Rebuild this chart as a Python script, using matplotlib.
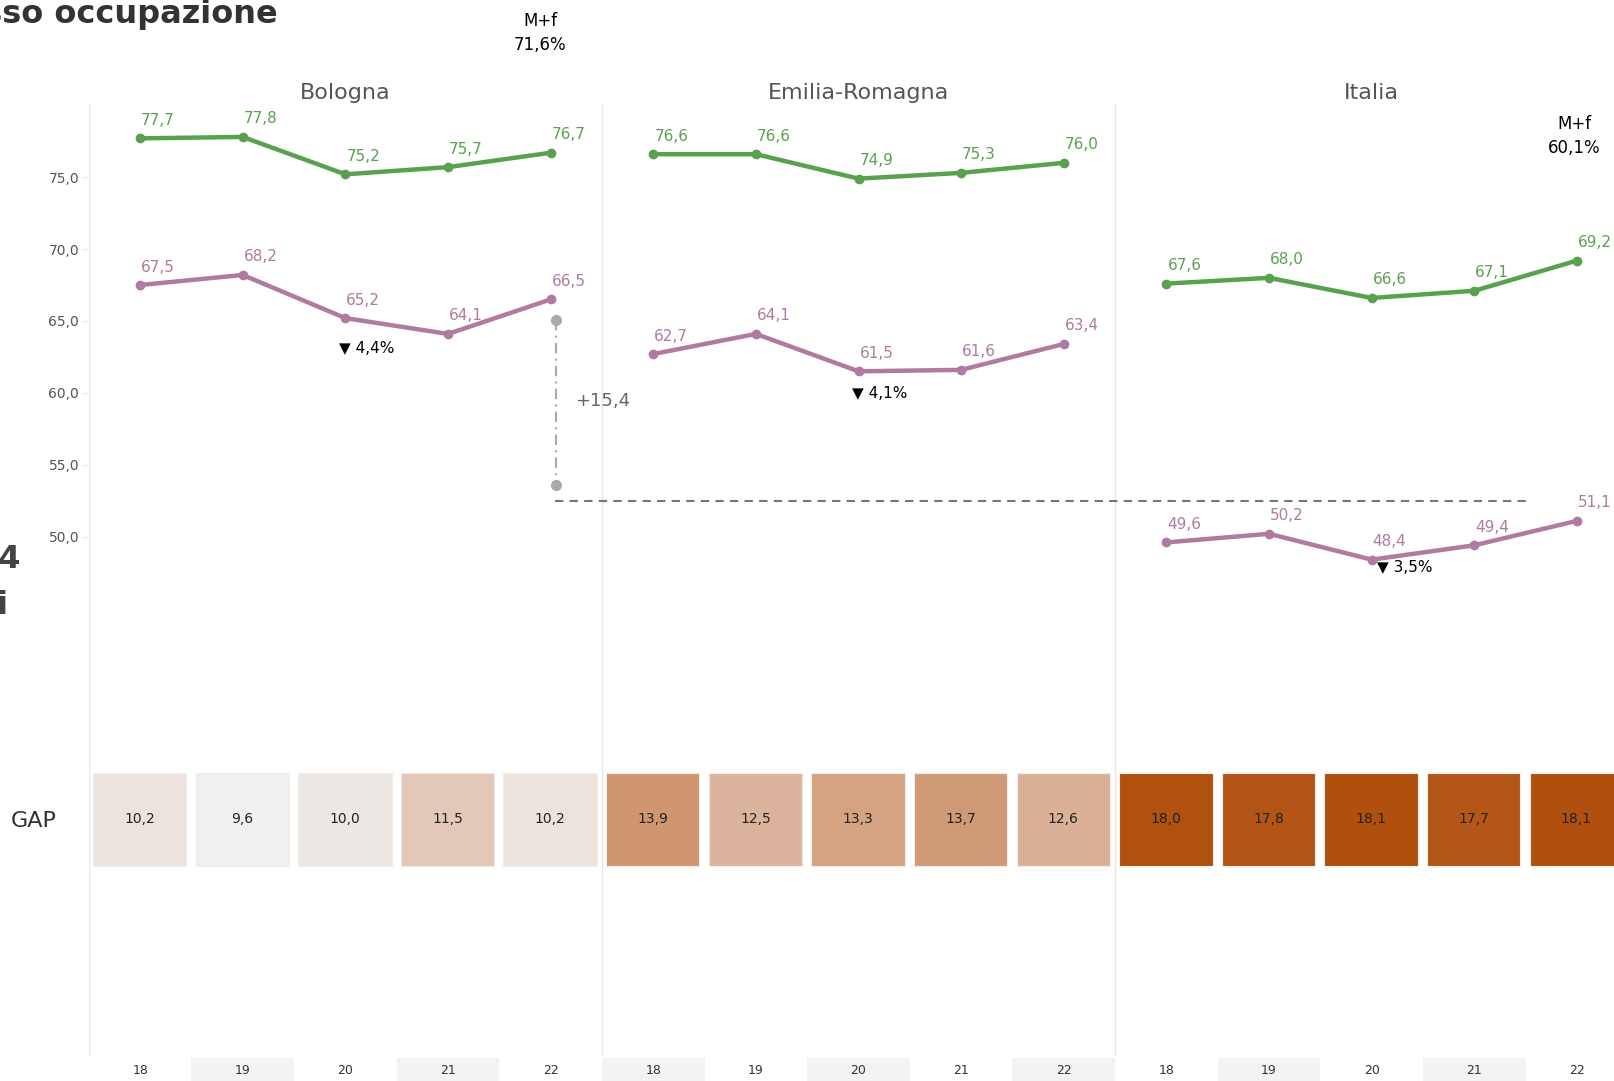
import matplotlib
matplotlib.use("Agg")
import matplotlib.pyplot as plt
import numpy as np
from matplotlib.colors import LinearSegmentedColormap, Normalize
from matplotlib.patches import Rectangle
from matplotlib.ticker import FuncFormatter

plt.rcParams['font.family'] = ['DejaVu Sans']

# data
areas = ["Bologna", "Emilia-Romagna", "Italia"]
years = ["18", "19", "20", "21", "22"]
men = [[77.7, 77.8, 75.2, 75.7, 76.7],
       [76.6, 76.6, 74.9, 75.3, 76.0],
       [67.6, 68.0, 66.6, 67.1, 69.2]]
women = [[67.5, 68.2, 65.2, 64.1, 66.5],
         [62.7, 64.1, 61.5, 61.6, 63.4],
         [49.6, 50.2, 48.4, 49.4, 51.1]]
gap = [10.2, 9.6, 10.0, 11.5, 10.2,
       13.9, 12.5, 13.3, 13.7, 12.6,
       18.0, 17.8, 18.1, 17.7, 18.1]
total_labels = ["M+f\n71,6%", "M+f\n60,1%"]
drop_labels = ["4,4%", "4,1%", "3,5%"]
drop_pos = [(2.21, 63.1), (7.21, 59.96), (12.32, 47.85)]
diff_label = "+15,4"
diff_top, diff_bottom = 65.04, 53.58
ref_level = 52.5

green = "#59a14f"
purple = "#b07aa1"

W, H = 1615, 1081
fig = plt.figure(figsize=(W / 100, H / 100), dpi=100)

x0 = 88.8
band = 102.63
n = 15
wid = band * n


def add_ax(top, bottom):
    return fig.add_axes([x0 / W, 1 - bottom / H, wid / W, (bottom - top) / H])


# background: panel dividers
bg = add_ax(103, 1056)
bg.set_xlim(-0.5, n - 0.5)
bg.set_ylim(0, 1)
bg.axis("off")
for xv in [-0.5, 4.5, 9.5]:
    bg.axvline(xv, color="#e6e6e6", lw=1)

# line chart
ax = add_ax(103, 765)
ax.patch.set_alpha(0)
ax.set_xlim(-0.5, n - 0.5)
ax.set_ylim(34.12, 80.16)
for s in ax.spines.values():
    s.set_visible(False)
ax.set_xticks([])
ax.set_yticks([50, 55, 60, 65, 70, 75])
ax.yaxis.set_major_formatter(FuncFormatter(lambda v, p: f"{v:.1f}".replace(".", ",")))
ax.tick_params(axis="y", length=5, color="#e6e6e6", labelsize=10, labelcolor="#555555", pad=2)

for k, area in enumerate(areas):
    xs = np.arange(5) + 5 * k
    for vals, col in [(men[k], green), (women[k], purple)]:
        ax.plot(xs, vals, color=col, lw=3.2, marker="o", ms=6, solid_capstyle="round", zorder=3)
        for xv, v in zip(xs, vals):
            ax.annotate(f"{v:.1f}".replace(".", ","), (xv, v), xytext=(1, 18),
                        textcoords="offset pixels", ha="left", va="center",
                        color=col, fontsize=11, annotation_clip=False)
    ax.text(5 * k + 2, 1.0, area, transform=ax.get_xaxis_transform(), ha="center",
            va="bottom", fontsize=16, color="#555555")

for (xv, yv), lab in zip(drop_pos, drop_labels):
    ax.text(xv, yv, "\u25bc " + lab, ha="center", va="center", fontsize=11, color="black")

# gap between Bologna women and Italy women
ax.plot([4.05, 4.05], [diff_top, diff_bottom], color="#aaaaaa", lw=1.5,
        dashes=(5, 2.5, 1, 2.5), zorder=2)
ax.plot([4.05, 4.05], [diff_top, diff_bottom], "o", color="#aaaaaa", ms=7, zorder=2)
ax.text(4.235, 59.46, diff_label, ha="left", va="center", fontsize=13, color="#666666")
ax.plot([4.04, 13.51], [ref_level, ref_level], color="#777777", lw=1.5, dashes=(4, 3), zorder=2)

# GAP squares
cmap = LinearSegmentedColormap.from_list("gap", [(0, "#f0f0f0"), (0.506, "#d09670"), (1, "#b04f0e")])
norm = Normalize(vmin=min(gap), vmax=max(gap))
gx = add_ax(772.5, 866)
gx.patch.set_alpha(0)
gx.set_xlim(-0.5, n - 0.5)
gx.set_ylim(0, 1)
gx.axis("off")
for i, v in enumerate(gap):
    gx.add_patch(Rectangle((i - 0.46, 0), 0.91, 1, facecolor=cmap(norm(v)),
                           edgecolor="#f4ece6", lw=0.8, clip_on=False))
    gx.text(i - 0.005, 0.5, f"{v:.1f}".replace(".", ","), ha="center", va="center",
            fontsize=10, color="#222222")

# year axis bands
yx = add_ax(1058, 1100)
yx.set_xlim(-0.5, n - 0.5)
yx.set_ylim(0, 1)
yx.axis("off")
for i in range(n):
    if i % 2 == 1:
        yx.add_patch(Rectangle((i - 0.5, 0), 1, 1, facecolor="#f3f3f3", edgecolor="none"))
    yx.text(i, 1 - 13 / 42, years[i % 5], ha="center", va="center", fontsize=9, color="#333333")

# texts outside plot
fig.text(278 / W, 1 - 23 / H, "Tasso occupazione", ha="right", va="baseline",
         fontsize=23, fontweight="bold", color="#333333")
fig.text(21 / W, 1 - 559 / H, "15-64", ha="right", va="center", fontsize=23,
         fontweight="bold", color="#444444")
fig.text(9 / W, 1 - 606 / H, "anni", ha="right", va="center", fontsize=23,
         fontweight="bold", color="#444444")
fig.text(540 / W, 1 - 33 / H, total_labels[0], ha="center", va="center", fontsize=12,
         color="black", linespacing=1.4)
fig.text(1574 / W, 1 - 136 / H, total_labels[1], ha="center", va="center", fontsize=12,
         color="black", linespacing=1.4)
fig.text(11 / W, 1 - 821 / H, "GAP", ha="left", va="center", fontsize=16, color="#333333")

fig.savefig("out.png", dpi=100)
